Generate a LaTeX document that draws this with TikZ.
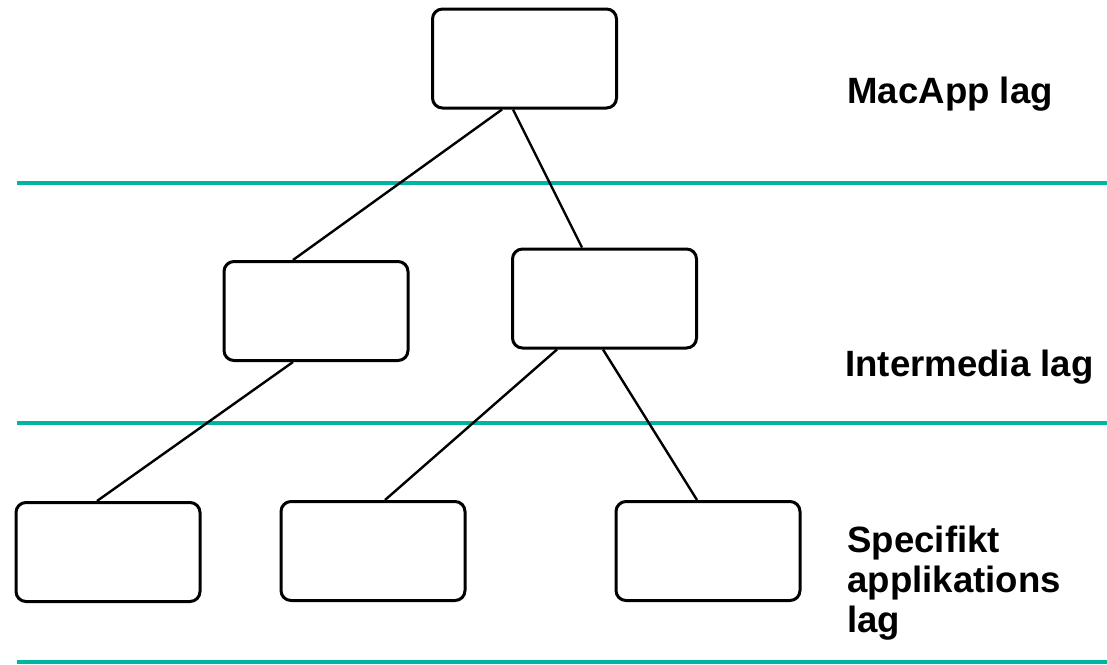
\documentclass[tikz,border=0pt]{standalone}
\usepackage{fontspec}
\setmainfont{Liberation Sans}
\usetikzlibrary{calc}
\definecolor{layerteal}{RGB}{0,180,160}

\begin{document}
\begin{tikzpicture}[
    x=0.5pt, y=-0.5pt,
    klass/.style={draw, line width=1.5pt, rounded corners=5pt, minimum width=92pt, minimum height=49.5pt, inner sep=0pt},
    link/.style={line width=1.2pt},
    layer/.style={draw=layerteal, line width=1.6pt},
    lagtext/.style={anchor=base west, align=left, inner sep=0pt, font=\fontsize{18.3}{20}\selectfont\bfseries}
]
\useasboundingbox (0,0) rectangle (1107,664);

% lagergranser
\coordinate (l1a) at (17,183);  \coordinate (l1b) at (1107,183);
\coordinate (l2a) at (17,423);  \coordinate (l2b) at (1107,423);
\coordinate (l3a) at (17,662);  \coordinate (l3b) at (1107,662);
\draw[layer] (l1a) -- (l1b);
\draw[layer] (l2a) -- (l2b);
\draw[layer] (l3a) -- (l3b);

% klasser
\node[klass] (macapp) at (524.5,58.5) {};
\node[klass] (interA) at (316,311) {};
\node[klass] (interB) at (604.5,298.5) {};
\node[klass] (specA) at (108,552) {};
\node[klass] (specB) at (373,551) {};
\node[klass] (specC) at (708,551) {};

\draw[link] ($(macapp.south)+(-22.5,0)$) -- ($(interA.north)+(-23,0)$);
\draw[link] ($(macapp.south)+(-11.5,0)$) -- ($(interB.north)+(-22.5,0)$);
\draw[link] ($(interA.south)+(-23,0)$) -- ($(specA.north)+(-11,0)$);
\draw[link] ($(interB.south)+(-47.5,0)$) -- ($(specB.north)+(12,0)$);
\draw[link] ($(interB.south)+(-1.5,0)$) -- ($(specC.north)+(-11,0)$);

% etiketter
\node[lagtext] (tMac) at (847,103) {MacApp lag};
\node[lagtext] (tInter) at (845,376) {Intermedia lag};
\node[lagtext] (tSpec) at (847,632) {Specifikt\\applikations\\lag};
\end{tikzpicture}
\end{document}
